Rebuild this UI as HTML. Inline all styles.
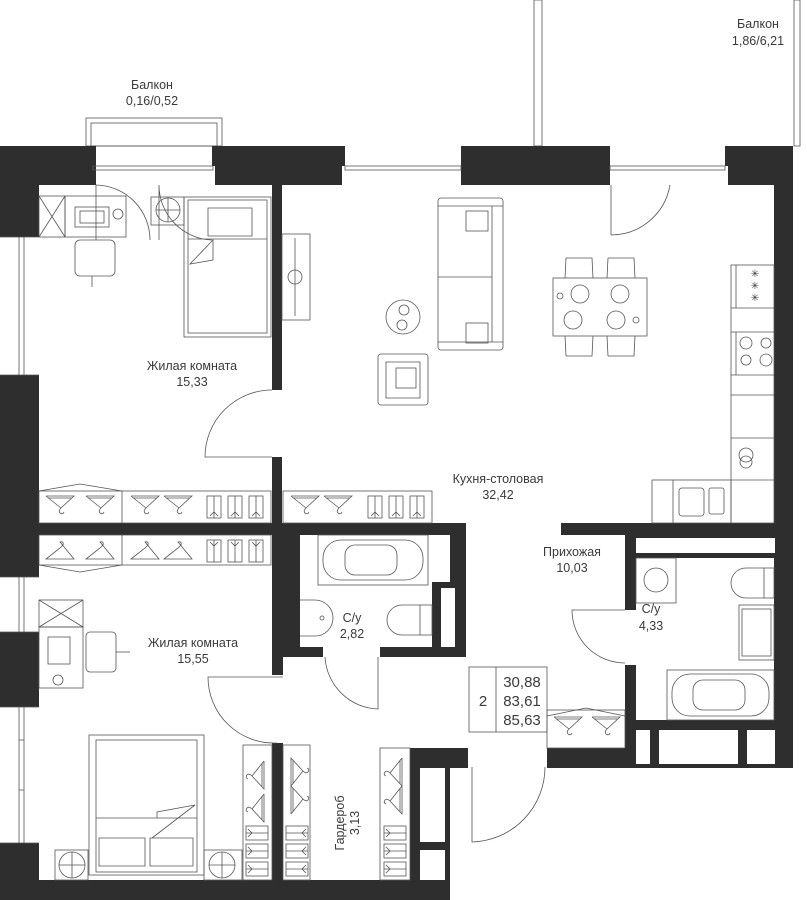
<!DOCTYPE html>
<html><head><meta charset="utf-8"><style>
html,body{margin:0;padding:0;background:#fff;width:807px;height:900px;overflow:hidden}
svg{display:block}
text{font-family:"Liberation Sans",sans-serif;fill:#3a3a3a;font-size:12.5px;text-anchor:middle}
.f{fill:none;stroke:#555;stroke-width:0.8}
.w{fill:#2e2e2e}
.wh{fill:#fff;stroke:#555;stroke-width:0.8}
</style></head><body>
<svg width="807" height="900" viewBox="0 0 807 900" xmlns="http://www.w3.org/2000/svg">
<defs>
<g id="hg"><path class="f" d="M-14,-6 L14,-6 L1,6 Q-2,9 0,11 Q3,13 4,10 M-14,-6 L1,6" /><path class="f" d="M-12,-4 L12,-4"/></g>
<g id="hgu"><path class="f" d="M0,-10 Q4,-11 3,-7 Q1,-5 0,-4 L-14,7 L14,7 Z"/></g>
<g id="sh"><rect class="f" x="-7" y="-11" width="14" height="22"/><path class="f" d="M0,-11 V11 M-4,9 L0,5 L4,9"/></g>
<g id="shd"><rect class="f" x="-7" y="-11" width="14" height="22"/><path class="f" d="M0,-11 V11 M-4,-9 L0,-5 L4,-9"/></g>
</defs>

<!-- balconies -->
<rect class="f" x="86" y="118" width="136" height="28"/>
<rect class="f" x="91" y="123" width="126" height="23"/>
<rect class="f" x="534" y="0" width="8" height="146"/>
<rect class="f" x="794" y="0" width="6" height="146"/>
<text x="152" y="89">Балкон</text>
<text x="152" y="105">0,16/0,52</text>
<text x="758" y="28">Балкон</text>
<text x="758" y="45">1,86/6,21</text>

<!-- outer walls -->
<rect class="w" x="0" y="146" width="96" height="39"/>
<rect class="w" x="0" y="146" width="39" height="754"/>
<rect class="w" x="212" y="146" width="133" height="20"/>
<rect class="w" x="215" y="166" width="127" height="19"/>
<rect class="w" x="461" y="146" width="149" height="39"/>
<rect class="w" x="725" y="146" width="68" height="20"/>
<rect class="w" x="728" y="166" width="65" height="19"/>
<rect class="w" x="774" y="146" width="19" height="622"/>
<rect class="w" x="0" y="880" width="450" height="20"/>
<!-- window frames top -->
<rect class="f" x="93" y="166" width="120" height="4"/>
<rect class="f" x="345" y="166" width="116" height="4"/>
<rect class="f" x="610" y="166" width="115" height="4"/>
<!-- left windows -->
<rect fill="#fff" x="0" y="237" width="39" height="138"/>
<path class="f" d="M0,237 H39 M0,375 H39 M19,237 V375 M24,237 V375"/>
<rect fill="#fff" x="0" y="577" width="39" height="55"/>
<path class="f" d="M0,577 H39 M0,632 H39 M19,577 V632 M24,577 V632"/>
<rect fill="#fff" x="0" y="707" width="39" height="136"/>
<path class="f" d="M0,707 H39 M0,843 H39 M19,707 V843 M24,707 V843 M19,740 H24 M19,790 H24"/>

<!-- inner walls -->
<rect class="w" x="272" y="185" width="10" height="205"/>
<rect class="w" x="272" y="457" width="10" height="66"/>
<rect class="w" x="39" y="523" width="261" height="12"/>
<rect class="w" x="272" y="523" width="194" height="12"/>
<rect class="w" x="272" y="523" width="28" height="134"/>
<rect class="w" x="272" y="657" width="11" height="18"/>
<rect class="w" x="272" y="743" width="11" height="137"/>
<rect class="w" x="432" y="523" width="34" height="134"/>
<rect fill="#fff" x="432" y="535" width="18" height="47"/>
<rect fill="#fff" x="441" y="588" width="14" height="59"/>
<rect class="w" x="272" y="647" width="51" height="10"/>
<rect class="w" x="380" y="647" width="86" height="10"/>
<rect class="w" x="410" y="748" width="58" height="20"/>
<rect class="w" x="410" y="768" width="40" height="112"/>
<rect fill="#fff" x="420" y="768" width="25" height="74"/>
<rect fill="#fff" x="420" y="850" width="25" height="30"/>
<rect class="w" x="561" y="523" width="232" height="12"/>
<rect class="w" x="625" y="535" width="168" height="23"/>
<rect fill="#fff" x="636" y="538" width="139" height="15"/>
<rect class="w" x="625" y="558" width="11" height="52"/>
<rect class="w" x="625" y="665" width="11" height="103"/>
<rect class="w" x="547" y="748" width="90" height="20"/>
<rect class="w" x="625" y="720" width="168" height="48"/>
<rect fill="#fff" x="636" y="730" width="14" height="34"/>
<rect fill="#fff" x="659" y="730" width="79" height="34"/>
<rect fill="#fff" x="747" y="730" width="28" height="34"/>

<!-- doors -->
<path class="f" d="M96,185 V240 M96,185 A55,55 0 0 1 150,240 M159,185 V240 M159,185 A55,55 0 0 0 212,240"/>
<path class="f" d="M611,185 V235 M611,235 A60,60 0 0 0 670,185"/>
<path class="f" d="M272,457 H205 A67,67 0 0 1 272,390"/>
<path class="f" d="M378,657 V709 A55,55 0 0 1 325,657"/>
<path class="f" d="M283,677 H208 A66,66 0 0 0 277,743"/>
<path class="f" d="M472,767 V842 A75,75 0 0 0 545,767"/>
<path class="f" d="M625,610 H572 A53,53 0 0 0 625,663"/>

<!-- bedroom 1 furniture -->
<rect class="f" x="39" y="196" width="26" height="41"/><path class="f" d="M39,196 L65,237 M65,196 L39,237"/>
<rect class="f" x="65" y="196" width="61" height="41"/>
<rect class="f" x="75" y="207" width="34" height="20"/><rect class="f" x="80" y="211" width="24" height="12"/>
<circle class="f" cx="118" cy="214" r="5"/>
<rect class="f" x="75" y="240" width="40" height="36" rx="5"/><path class="f" d="M92,276 V287"/>
<rect class="f" x="151" y="197" width="33" height="28"/><circle class="f" cx="168" cy="210" r="12"/><path class="f" d="M156,210 H180 M168,198 V222"/>
<rect class="f" x="184" y="197" width="87" height="140"/><rect class="f" x="188" y="200" width="79" height="133"/>
<path class="f" d="M208,208 H252 V236 H208 Z M188,239 H267 M190,264 L213,240 V260 Z"/>
<rect class="f" x="282" y="234" width="28" height="86"/><path class="f" d="M295,238 V316"/><circle class="f" cx="295" cy="277" r="7"/>

<!-- living -->
<rect class="f" x="438" y="198" width="65" height="152" rx="3"/>
<path class="f" d="M438,206 H503 M438,342 H503 M492,206 V342 M438,277 H492"/>
<rect class="f" x="466" y="211" width="22" height="20"/><rect class="f" x="466" y="323" width="22" height="20"/>
<circle class="f" cx="403" cy="317" r="17"/><circle class="f" cx="404" cy="310" r="5"/><circle class="f" cx="402" cy="325" r="5"/>
<rect class="f" x="378" y="354" width="50" height="51" rx="3"/><path class="f" d="M386,362 H420 V398 H386 Z"/><rect class="f" x="396" y="368" width="20" height="20"/>
<!-- dining -->
<rect class="f" x="553" y="278" width="94" height="58"/>
<path class="f" d="M566,258 H592 L593,278 M566,258 L565,278 M608,258 H634 L635,278 M608,258 L607,278 M566,356 H592 L593,336 M566,356 L565,336 M608,356 H634 L635,336 M608,356 L607,336"/>
<circle class="f" cx="580" cy="294" r="9"/><circle class="f" cx="620" cy="294" r="9"/><circle class="f" cx="573" cy="320" r="9"/><circle class="f" cx="616" cy="320" r="9"/>
<circle class="f" cx="560" cy="296" r="3"/><circle class="f" cx="636" cy="320" r="3"/>
<!-- kitchen -->
<rect class="f" x="731" y="265" width="43" height="258"/>
<path class="f" d="M731,308 H774 M731,332 H774 M731,375 H774 M731,395 H774 M731,438 H774 M731,480 H774 M736,265 V308 M736,332 V375"/>
<text x="755" y="277" style="font-size:10px">✳</text><text x="755" y="289" style="font-size:10px">✳</text><text x="755" y="301" style="font-size:10px">✳</text>
<circle class="f" cx="746" cy="343" r="6"/><circle class="f" cx="766" cy="343" r="5"/><circle class="f" cx="746" cy="360" r="5"/><circle class="f" cx="766" cy="360" r="6"/>
<circle class="f" cx="746" cy="455" r="7"/><circle class="f" cx="746" cy="462" r="6"/>
<rect class="f" x="652" y="480" width="79" height="43"/><path class="f" d="M673,480 V523"/>
<rect class="f" x="679" y="488" width="25" height="28" rx="3"/><rect class="f" x="709" y="488" width="15" height="26" rx="2"/>

<!-- wardrobes -->
<rect class="f" x="39" y="491" width="232" height="32"/><path class="f" d="M122,491 V523 M39,491 L80,484 L122,491"/>
<use href="#hg" x="60" y="502"/><use href="#hg" x="100" y="502"/><use href="#hg" x="145" y="502"/><use href="#hg" x="178" y="502"/>
<use href="#sh" x="214" y="507"/><use href="#sh" x="235" y="507"/><use href="#sh" x="256" y="507"/>
<rect class="f" x="283" y="491" width="149" height="32"/>
<use href="#hg" x="305" y="502"/><use href="#hg" x="338" y="502"/>
<use href="#sh" x="375" y="507"/><use href="#sh" x="396" y="507"/><use href="#sh" x="417" y="507"/>
<rect class="f" x="39" y="535" width="232" height="30"/><path class="f" d="M122,535 V565 M39,565 L80,572 L122,565"/>
<use href="#hgu" x="60" y="552"/><use href="#hgu" x="100" y="552"/><use href="#hgu" x="145" y="552"/><use href="#hgu" x="178" y="552"/>
<use href="#shd" x="214" y="551"/><use href="#shd" x="235" y="551"/><use href="#shd" x="256" y="551"/>

<!-- bath 1 -->
<rect class="f" x="318" y="535" width="110" height="50"/><rect class="f" x="323" y="540" width="100" height="40" rx="18"/><rect class="f" x="345" y="545" width="52" height="30" rx="10"/>
<path class="f" d="M300,600 H315 A18,18 0 0 1 315,636 H300"/><circle class="f" cx="322" cy="618" r="2"/>
<rect class="f" x="420" y="605" width="12" height="30"/><path class="f" d="M420,605 H402 A15,15 0 0 0 402,635 H420"/>
<!-- bath 2 -->
<rect class="f" x="636" y="558" width="40" height="45"/><circle class="f" cx="656" cy="580" r="12"/>
<rect class="f" x="764" y="568" width="10" height="30"/><path class="f" d="M764,568 H746 A15,15 0 0 0 746,598 H764"/>
<rect class="f" x="739" y="605" width="35" height="55"/><rect class="f" x="742" y="609" width="29" height="47"/>
<rect class="f" x="667" y="670" width="107" height="50"/><rect class="f" x="672" y="674" width="97" height="42" rx="18"/><rect class="f" x="693" y="680" width="52" height="30" rx="10"/>
<rect class="f" x="547" y="710" width="78" height="38"/><path class="f" d="M547,716 L586,708 L625,716"/>
<use href="#hg" x="568" y="723"/><use href="#hg" x="606" y="723"/>

<!-- bedroom 2 furniture -->
<rect class="f" x="39" y="600" width="44" height="27"/><path class="f" d="M39,600 L83,627 M83,600 L39,627"/>
<rect class="f" x="39" y="627" width="44" height="61"/><rect class="f" x="48" y="637" width="22" height="27"/><circle class="f" cx="58" cy="680" r="5"/>
<rect class="f" x="86" y="632" width="30" height="40" rx="4"/><path class="f" d="M116,652 H130"/>
<rect class="f" x="89" y="735" width="115" height="140"/><rect class="f" x="96" y="740" width="101" height="132"/>
<path class="f" d="M96,818 H197 M157,818 V812 L195,805 L152,838 M99,838 H145 V866 H99 Z M150,838 H193 V866 H150 Z"/>
<rect class="f" x="55" y="850" width="33" height="30"/><circle class="f" cx="72" cy="865" r="13"/><path class="f" d="M59,865 H85 M72,852 V878"/>
<rect class="f" x="204" y="850" width="38" height="30"/><circle class="f" cx="222" cy="865" r="13"/><path class="f" d="M209,865 H235 M222,852 V878"/>
<rect class="f" x="243" y="745" width="29" height="135"/>
<use href="#hg" transform="translate(258,775) rotate(90)"/><use href="#hg" transform="translate(258,808) rotate(90)"/>
<use href="#sh" transform="translate(257,833) rotate(90)"/><use href="#sh" transform="translate(257,851) rotate(90)"/><use href="#sh" transform="translate(257,869) rotate(90)"/>
<!-- garderob -->
<rect class="f" x="283" y="745" width="27" height="135"/>
<use href="#hg" transform="translate(297,772) rotate(-90)"/><use href="#hg" transform="translate(297,800) rotate(-90)"/>
<use href="#sh" transform="translate(297,833) rotate(-90)"/><use href="#sh" transform="translate(297,851) rotate(-90)"/><use href="#sh" transform="translate(297,869) rotate(-90)"/>
<rect class="f" x="380" y="748" width="30" height="132"/>
<use href="#hg" transform="translate(396,772) rotate(90)"/><use href="#hg" transform="translate(396,800) rotate(90)"/>
<use href="#sh" transform="translate(395,833) rotate(90)"/><use href="#sh" transform="translate(395,851) rotate(90)"/><use href="#sh" transform="translate(395,869) rotate(90)"/>

<!-- summary -->
<rect class="f" x="469" y="667" width="78" height="65"/><path class="f" d="M496,667 V732"/>
<text x="483" y="706" style="font-size:15px">2</text>
<text x="522" y="687" style="font-size:15px">30,88</text>
<text x="522" y="706" style="font-size:15px">83,61</text>
<text x="522" y="725" style="font-size:15px">85,63</text>

<!-- labels -->
<text x="192" y="370">Жилая комната</text><text x="192" y="386">15,33</text>
<text x="498" y="483">Кухня-столовая</text><text x="498" y="499">32,42</text>
<text x="572" y="556">Прихожая</text><text x="572" y="572">10,03</text>
<text x="651" y="613">С/у</text><text x="651" y="630">4,33</text>
<text x="352" y="622">С/у</text><text x="352" y="638">2,82</text>
<text x="193" y="647">Жилая комната</text><text x="193" y="663">15,55</text>
<g transform="translate(344,823) rotate(-90)"><text x="0" y="0">Гардероб</text><text x="0" y="15">3,13</text></g>
</svg>
</body></html>
